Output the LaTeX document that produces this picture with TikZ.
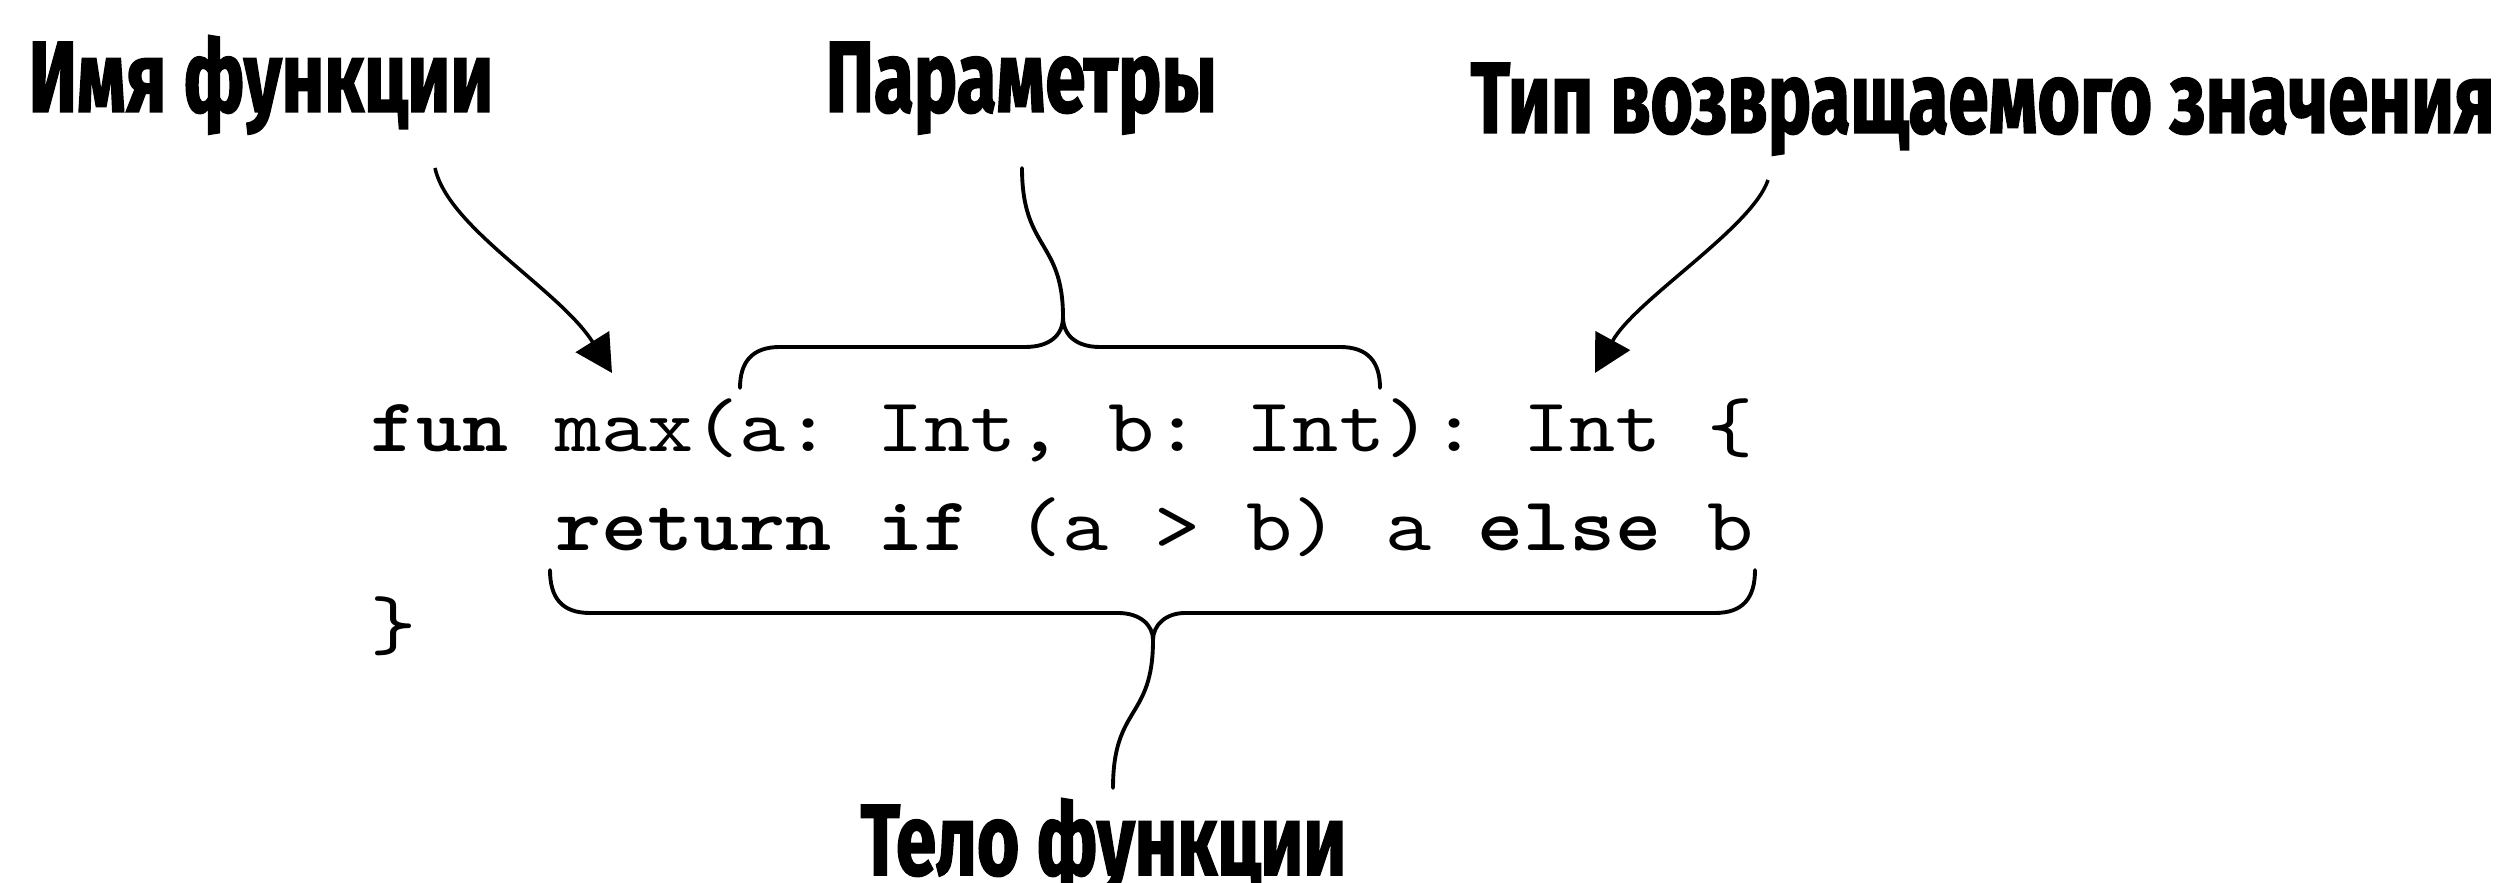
\documentclass[tikz,border=0pt]{standalone}
\usepackage{fontspec}
\usetikzlibrary{arrows.meta}
\newfontfamily\lblfont{Fira Sans}[UprightFont={* Bold}, FakeStretch=0.72, FakeBold=1.5]
\newfontfamily\codefont{lmmono10-regular}[Extension=.otf, BoldFont=lmmonolt10-bold, FakeStretch=1.155]
\newcommand\ksp{\hspace*{0.461cm}}
\tikzset{
  lbl/.style={font={\lblfont\fontsize{1.01cm}{1.2cm}\selectfont}, inner sep=0pt, anchor=base west},
  codeline/.style={font={\codefont\fontsize{0.76cm}{0.99cm}\selectfont}, inner sep=0pt, anchor=base west},
  bracepath/.style={line width=1.1pt, line join=round, line cap=round},
  arr/.style={line width=1pt, -{Triangle[length=0.37cm, width=0.39cm]}}
}
\begin{document}
\begin{tikzpicture}[x=0.01cm, y=-0.01cm]
\useasboundingbox[fill=white] (0,0) rectangle (2500,883);
% labels
\node[lbl] (lname)   at (28,112)  {Имя функции};
\node[lbl] (lparams) at (825,112) {Параметры};
\node[lbl] (ltype)   at (1470,133) {Тип возвращаемого значения};
\node[lbl] (lbody)   at (860,875) {Тело функции};
% code
\node[codeline] (c1) at (370,452) {\textbf{fun}\ksp max(a:\ksp Int,\ksp b:\ksp Int):\ksp Int\ksp\{};
\node[codeline] (c2) at (554.4,551) {\textbf{return}\ksp\textbf{if}\ksp(a\ksp>\ksp b)\ksp a\ksp\textbf{else}\ksp b};
\node[codeline] (c3) at (370,650) {\}};
% arrow coordinates
\coordinate (a1s) at (435,168);
\coordinate (a1e) at (612,373);
\coordinate (a2s) at (1768,180);
\coordinate (a2e) at (1595,373);
\draw[arr] (a1s) .. controls (448,228) and (560,290) .. (a1e);
\draw[arr] (a2s) .. controls (1752,228) and (1635,300) .. (a2e);
% top brace (parameters)
\coordinate (tl) at (740,388);
\coordinate (tr) at (1380,388);
\coordinate (tc) at (1063,317);
\coordinate (tt) at (1022,168);
\draw[bracepath] (tl) .. controls (740,362) and (752,347) .. (780,347) -- (1025,347) .. controls (1050,347) and (1063,335) .. (tc);
\draw[bracepath] (tr) .. controls (1380,362) and (1368,347) .. (1340,347) -- (1100,347) .. controls (1076,347) and (1063,335) .. (tc);
\draw[bracepath] (tc) .. controls (1063,240) and (1022,250) .. (tt);
% bottom brace (body)
\coordinate (bl) at (550,570);
\coordinate (br) at (1755,570);
\coordinate (bc) at (1153,640);
\coordinate (bb) at (1113,788);
\draw[bracepath] (bl) .. controls (550,598) and (562,613) .. (590,613) -- (1118,613) .. controls (1140,613) and (1153,625) .. (bc);
\draw[bracepath] (br) .. controls (1755,598) and (1743,613) .. (1715,613) -- (1185,613) .. controls (1166,613) and (1153,625) .. (bc);
\draw[bracepath] (bc) .. controls (1153,720) and (1113,705) .. (bb);
\end{tikzpicture}
\end{document}
